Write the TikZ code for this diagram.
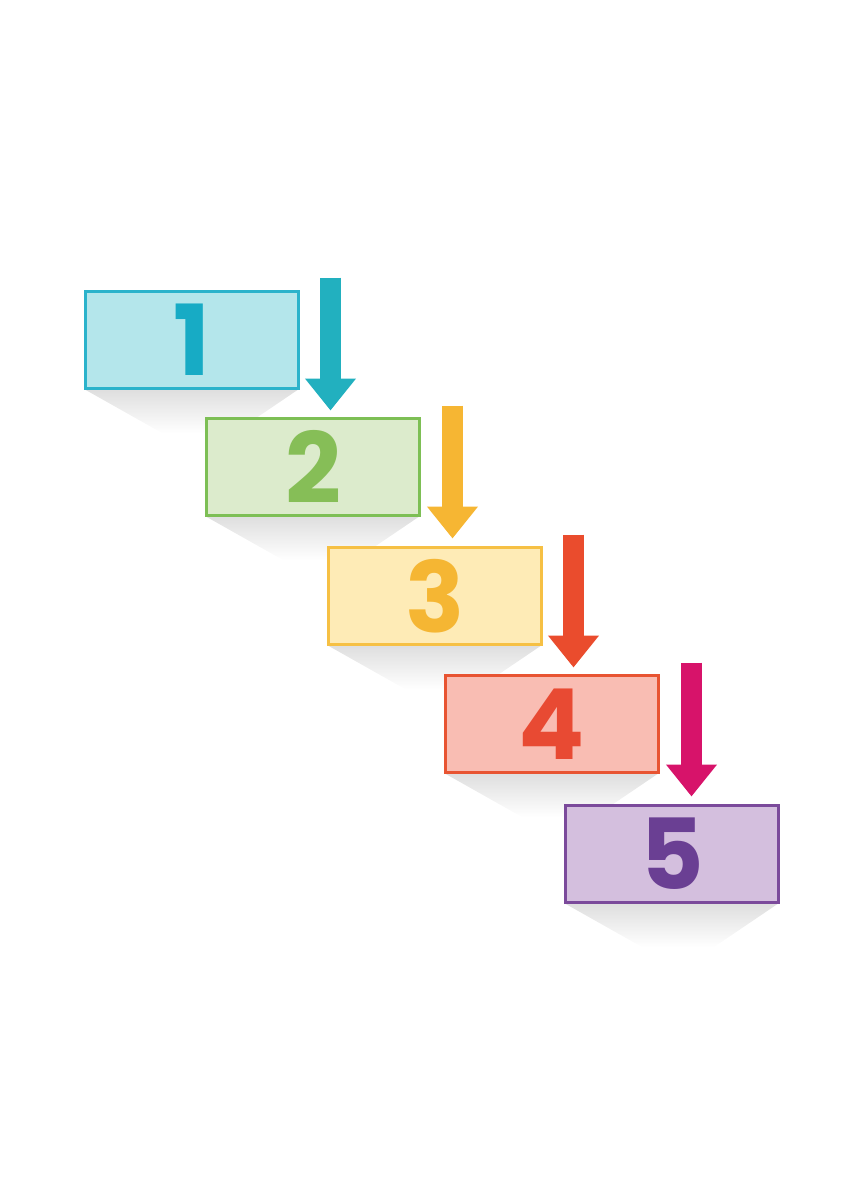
\documentclass[tikz,border=0pt]{standalone}
\usepackage{fontspec}
\newfontfamily\digitfont{Poppins}
\usetikzlibrary{arrows.meta,calc}
\definecolor{bA}{HTML}{2BB3CB}\definecolor{fA}{HTML}{B4E6EB}\definecolor{dA}{HTML}{17ABC5}\definecolor{aA}{HTML}{22B0BF}
\definecolor{bB}{HTML}{7DBF55}\definecolor{fB}{HTML}{DCEBCC}\definecolor{dB}{HTML}{86BE57}\definecolor{aB}{HTML}{F6B633}
\definecolor{bC}{HTML}{F6C044}\definecolor{fC}{HTML}{FEEBB6}\definecolor{dC}{HTML}{F5B633}\definecolor{aC}{HTML}{EA4C2D}
\definecolor{bD}{HTML}{E85432}\definecolor{fD}{HTML}{F9BDB3}\definecolor{dD}{HTML}{E84A33}\definecolor{aD}{HTML}{D7136A}
\definecolor{bE}{HTML}{7B4A9B}\definecolor{fE}{HTML}{D4BFDE}\definecolor{dE}{HTML}{6A3F93}
\tikzset{
  stepbox/.style={draw=#1, line width=3pt, minimum width=213pt, minimum height=97pt, inner sep=0pt, outer sep=0pt, anchor=north west, font=\digitfont\bfseries\fontsize{98}{98}\selectfont},
  downarrow/.style={draw=#1, line width=21pt, -{Triangle[width=49pt,length=32pt]}},
  shadowshape/.style={top color=black!13, bottom color=white, draw=none}
}
\begin{document}
\begin{tikzpicture}[x=1pt,y=-1pt]
\useasboundingbox (0,0) rectangle (864,1184);
% shadows
\foreach \x/\y in {84/290, 205/417, 327/546, 444/674, 564/804}{
  \shade[shadowshape] (\x,\y+99) -- (\x+215,\y+99) -- (\x+150,\y+143) -- (\x+78,\y+143) -- cycle;
}
% boxes
\node[stepbox=bA, fill=fA, text=dA] (b1) at (85.5,291.5) {1};
\node[stepbox=bB, fill=fB, text=dB] (b2) at (206.5,418.5) {2};
\node[stepbox=bC, fill=fC, text=dC] (b3) at (328.5,547.5) {3};
\node[stepbox=bD, fill=fD, text=dD] (b4) at (445.5,675.5) {4};
\node[stepbox=bE, fill=fE, text=dE] (b5) at (565.5,805.5) {5};
% arrows
\coordinate (s1) at ($(b1.north east)+(32,-14)$);
\coordinate (t1) at ($(b2.north west)+(124,-8)$);
\coordinate (s2) at ($(b2.north east)+(33,-13)$);
\coordinate (t2) at ($(b3.north west)+(123,-9)$);
\coordinate (s3) at ($(b3.north east)+(32,-13)$);
\coordinate (t3) at ($(b4.north west)+(127,-8)$);
\coordinate (s4) at ($(b4.north east)+(33,-13)$);
\coordinate (t4) at ($(b5.north west)+(123,-9)$);
\draw[downarrow=aA] (s1) -- (s1 |- t1);
\draw[downarrow=aB] (s2) -- (s2 |- t2);
\draw[downarrow=aC] (s3) -- (s3 |- t3);
\draw[downarrow=aD] (s4) -- (s4 |- t4);
\end{tikzpicture}
\end{document}
